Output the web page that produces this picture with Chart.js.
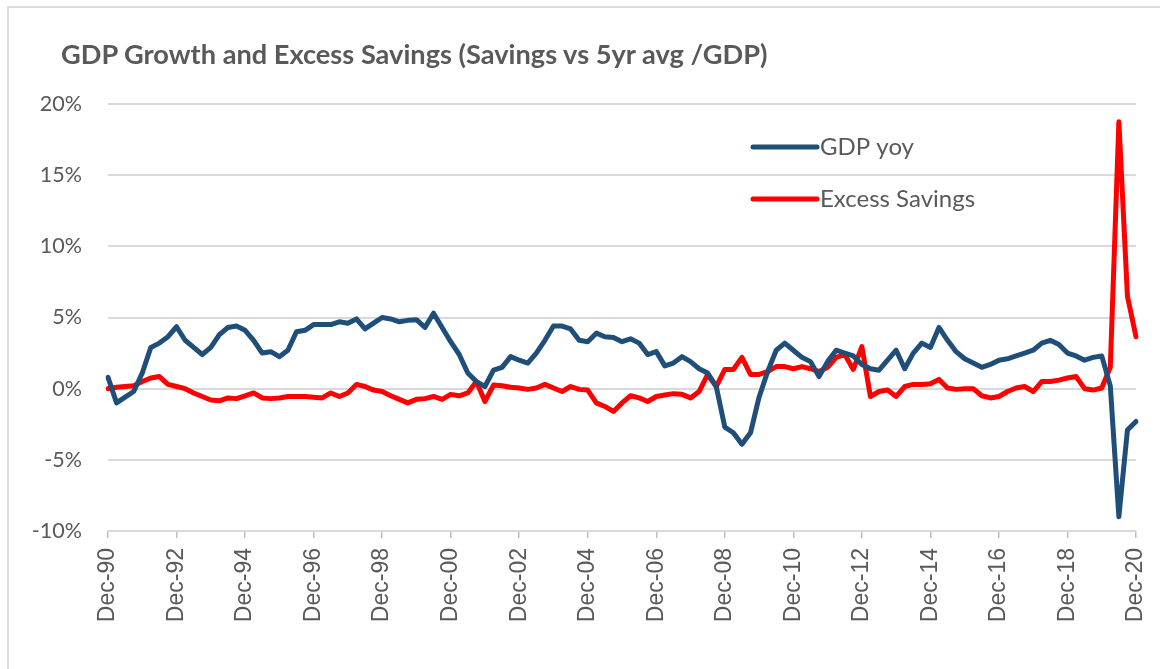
<!DOCTYPE html>
<html>
<head>
<meta charset="utf-8">
<script src="https://cdn.jsdelivr.net/npm/chart.js@4/dist/chart.umd.min.js"></script>
<style>
  html, body { margin: 0; padding: 0; background: #ffffff; }
  #wrap { position: relative; width: 1160px; height: 669px; overflow: hidden; }
  #frame { position: absolute; left: 7px; top: 6px; right: -10px; bottom: -10px;
           border-left: 2px solid #dcdcdc; border-top: 2px solid #dcdcdc; }
  #chart { position: absolute; left: 0; top: 0; }
  #title { position: absolute; left: 61px; top: 38px; margin: 0;
           font: bold 27.2px/32px Lato, sans-serif; color: #595959; white-space: nowrap; }
</style>
</head>
<body>
<div id="wrap">
  <div id="frame"></div>
  <canvas id="chart" width="1160" height="669"></canvas>
  <div id="title">GDP Growth and Excess Savings (Savings vs 5yr avg /GDP)</div>
</div>
<script>
// quarterly, Dec-90 .. Dec-20
var firstYear = 1990;
var quarterMonths = ["Mar", "Jun", "Sep", "Dec"];

var gdpYoy = [
    0.8, -1.0, -0.6, -0.2, 1.1, 2.9, 3.2, 3.65,
    4.35, 3.4, 2.9, 2.4, 2.9, 3.8, 4.3, 4.4,
    4.1, 3.4, 2.5, 2.6, 2.25, 2.7, 4.0, 4.1,
    4.5, 4.5, 4.5, 4.7, 4.6, 4.9, 4.2, 4.6,
    5.0, 4.9, 4.7, 4.8, 4.85, 4.3, 5.3, 4.3,
    3.3, 2.4, 1.1, 0.5, 0.15, 1.3, 1.5, 2.25,
    2.0, 1.8, 2.5, 3.4, 4.4, 4.4, 4.2, 3.4,
    3.3, 3.9, 3.65, 3.6, 3.3, 3.5, 3.2, 2.4,
    2.6, 1.6, 1.8, 2.25, 1.9, 1.4, 1.1, 0.15,
    -2.7, -3.1, -3.9, -3.1, -0.6, 1.2, 2.7, 3.2,
    2.7, 2.2, 1.9, 0.85, 1.9, 2.7, 2.5, 2.3,
    1.7, 1.4, 1.3, 2.0, 2.7, 1.4, 2.5, 3.2,
    2.9, 4.3, 3.4, 2.6, 2.1, 1.8, 1.5, 1.7,
    2.0, 2.1, 2.3, 2.5, 2.7, 3.2, 3.4, 3.1,
    2.5, 2.3, 2.0, 2.2, 2.3, 0.2, -9.0, -2.9,
    -2.3
];

var excessSavings = [
    0.0, 0.1, 0.15, 0.2, 0.5, 0.75, 0.85, 0.3,
    0.15, 0.0, -0.3, -0.55, -0.8, -0.85, -0.65, -0.7,
    -0.5, -0.3, -0.65, -0.7, -0.65, -0.55, -0.55, -0.55,
    -0.6, -0.65, -0.3, -0.55, -0.3, 0.3, 0.15, -0.1,
    -0.2, -0.5, -0.75, -1.0, -0.75, -0.7, -0.55, -0.75,
    -0.4, -0.5, -0.3, 0.5, -0.9, 0.25, 0.2, 0.1,
    0.05, -0.05, 0.05, 0.3, 0.05, -0.2, 0.15, -0.05,
    -0.1, -1.0, -1.25, -1.6, -1.0, -0.5, -0.65, -0.9,
    -0.55, -0.45, -0.35, -0.4, -0.65, -0.2, 1.0, 0.15,
    1.35, 1.35, 2.2, 1.0, 1.0, 1.2, 1.55, 1.55,
    1.4, 1.55, 1.4, 1.2, 1.5, 2.2, 2.4, 1.35,
    2.95, -0.55, -0.2, -0.1, -0.55, 0.15, 0.3, 0.3,
    0.35, 0.65, 0.05, -0.05, 0.0, 0.0, -0.5, -0.65,
    -0.55, -0.2, 0.05, 0.15, -0.2, 0.5, 0.5, 0.6,
    0.75, 0.85, 0.0, -0.1, 0.05, 1.5, 18.75, 6.5,
    3.65
];

var seriesNames = ["GDP yoy", "Excess Savings"];
var seriesColors = ["#1f4e79", "#ff0000"];
var yTicks = [-10, -5, 0, 5, 10, 15, 20];

// quarter labels
var quarters = [];
for (var i = 0; i < gdpYoy.length; i++) {
    var q = 3 + i;
    var yr = firstYear + Math.floor(q / 4);
    quarters.push(quarterMonths[q % 4] + "-" + String(yr % 100).padStart(2, "0"));
}

var textGrey = "#595959";

// legend drawn inside the plot like the Excel one
var insideLegend = {
    id: "insideLegend",
    afterDatasetsDraw: function (chart, args, opts) {
        var ctx = chart.ctx;
        ctx.save();
        ctx.font = opts.font;
        ctx.textBaseline = "middle";
        ctx.textAlign = "left";
        chart.data.datasets.forEach(function (ds, k) {
            var y = opts.y[k];
            ctx.strokeStyle = ds.borderColor;
            ctx.lineWidth = 5;
            ctx.lineCap = "round";
            ctx.beginPath();
            ctx.moveTo(opts.x, y);
            ctx.lineTo(opts.x + opts.lineLen, y);
            ctx.stroke();
            ctx.fillStyle = textGrey;
            ctx.fillText(ds.label, opts.x + opts.lineLen + 3, y);
        });
        ctx.restore();
    }
};

function makeChart() {
    var el = document.getElementById("chart");

    var datasets = [gdpYoy, excessSavings].map(function (vals, k) {
        return {
            label: seriesNames[k],
            data: vals,
            borderColor: seriesColors[k],
            backgroundColor: seriesColors[k],
            borderWidth: 5,
            pointRadius: 0,
            tension: 0,
            fill: false,
            borderJoinStyle: "round",
            borderCapStyle: "round"
        };
    });

    new Chart(el, {
        type: "line",
        data: { labels: quarters, datasets: datasets },
        options: {
            responsive: false,
            animation: false,
            layout: { padding: { left: 0, right: 24, top: 104, bottom: 0 } },
            plugins: {
                legend: { display: false },
                tooltip: { enabled: false },
                title: { display: false },
                insideLegend: {
                    x: 753, lineLen: 64, y: [147, 199],
                    font: "24px Lato"
                }
            },
            scales: {
                x: {
                    offset: false,
                    afterFit: function (s) {
                        s.height = 138;
                        s.paddingLeft = 0;
                        s.paddingRight = 0;
                    },
                    grid: {
                        drawOnChartArea: false,
                        color: "#bfbfbf",
                        lineWidth: 1.5,
                        tickLength: 7
                    },
                    border: { display: true, color: "#d9d9d9", width: 2 },
                    ticks: {
                        autoSkip: false,
                        minRotation: 90,
                        maxRotation: 90,
                        padding: 10,
                        color: textGrey,
                        font: { family: "Liberation Sans", size: 23 },
                        callback: function (v, idx) {
                            return idx % 8 === 0 ? this.getLabelForValue(v) : null;
                        }
                    }
                },
                y: {
                    min: yTicks[0],
                    max: yTicks[yTicks.length - 1],
                    afterFit: function (s) { s.width = 108; },
                    afterBuildTicks: function (s) {
                        s.ticks = yTicks.map(function (v) { return { value: v }; });
                    },
                    grid: { color: "#d9d9d9", lineWidth: 2, drawTicks: false },
                    border: { display: false },
                    ticks: {
                        padding: 26,
                        color: textGrey,
                        font: { family: "Lato", size: 21.5 },
                        callback: function (v) { return v + "%"; }
                    }
                }
            }
        },
        plugins: [insideLegend]
    });
}

document.addEventListener("DOMContentLoaded", makeChart);
</script>
</body>
</html>
